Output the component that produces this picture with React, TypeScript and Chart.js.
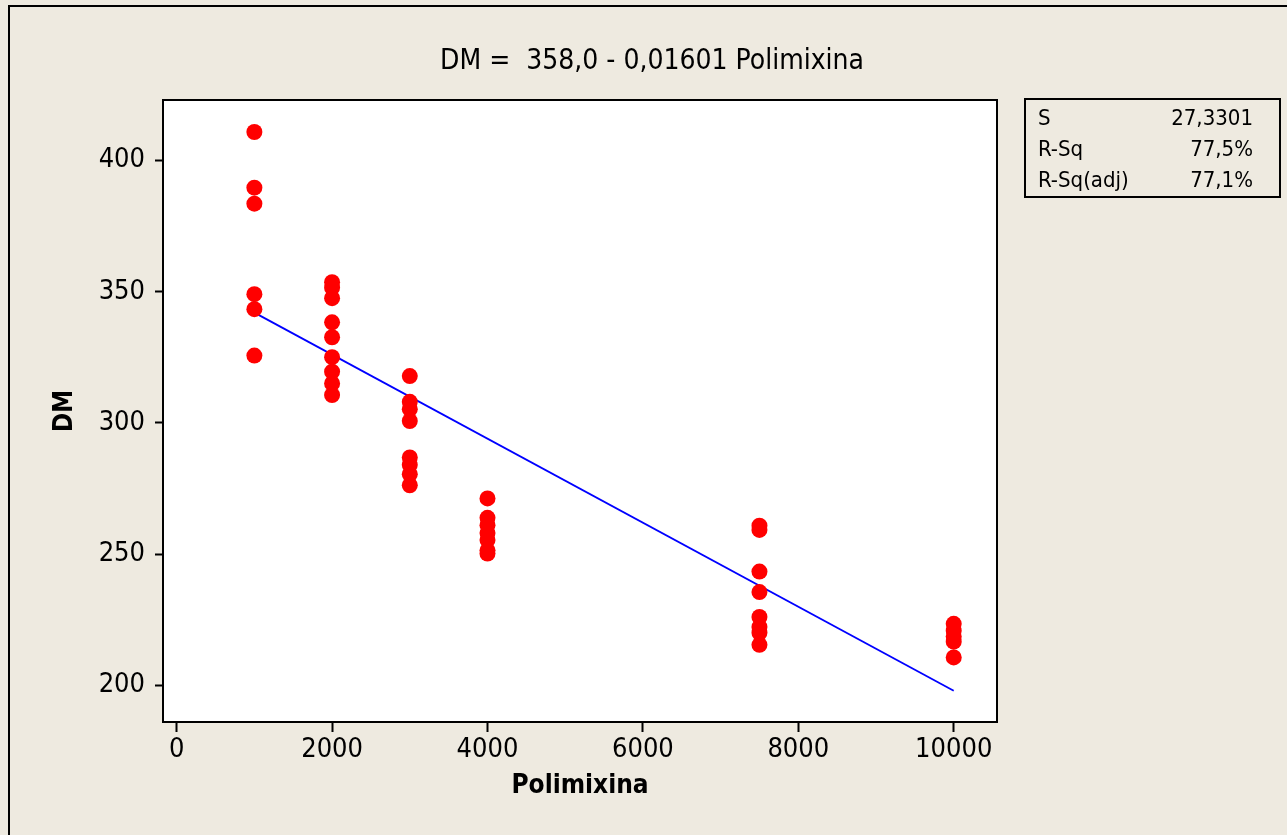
import React, { useEffect, useRef } from "react";
import { Chart, registerables } from "chart.js";

Chart.register(...registerables);

// Observed data (Polimixina, DM)
const polimixina: number[] = [
  1000, 1000, 1000, 1000, 1000, 1000,
  2000, 2000, 2000, 2000, 2000, 2000, 2000, 2000, 2000,
  3000, 3000, 3000, 3000, 3000, 3000, 3000, 3000,
  4000, 4000, 4000, 4000, 4000, 4000, 4000,
  7500, 7500, 7500, 7500, 7500, 7500, 7500, 7500,
  10000, 10000, 10000, 10000, 10000,
];
const dm: number[] = [
  410.8, 389.6, 383.5, 349.0, 343.3, 325.6,
  353.6, 351.5, 347.5, 338.3, 332.6, 325.0, 319.5, 315.0, 310.6,
  317.8, 308.0, 305.2, 300.7, 286.8, 284.0, 280.4, 276.2,
  271.2, 263.8, 261.0, 258.0, 255.3, 251.4, 250.2,
  260.8, 259.2, 243.3, 235.5, 226.0, 222.2, 220.0, 215.4,
  223.4, 220.8, 218.6, 216.6, 210.6,
];

// Fitted regression line end points: DM = 358,0 - 0,01601 Polimixina
const fitX: number[] = [1000, 10000];
const fitY: number[] = [341.99, 197.9];

const xTicks: number[] = [0, 2000, 4000, 6000, 8000, 10000];
const yTicks: number[] = [200, 250, 300, 350, 400];

const titleText = "DM =  358,0 - 0,01601 Polimixina";
const statLabels: string[] = ["S", "R-Sq", "R-Sq(adj)"];
const statValues: string[] = ["27,3301", "77,5%", "77,1%"];

const FONT = "'DejaVu Sans Condensed', 'DejaVu Sans', sans-serif";
const BG = "#EEEAE0";

export default function App() {
  const ref = useRef<HTMLCanvasElement | null>(null);

  useEffect(() => {
    if (!ref.current) return;

    const decor = {
      id: "decor",
      beforeDraw(chart: any) {
        const { ctx, chartArea: a } = chart;
        ctx.save();
        ctx.fillStyle = BG;
        ctx.fillRect(0, 0, chart.width, chart.height);
        // outer frame
        ctx.strokeStyle = "#000";
        ctx.lineWidth = 2;
        ctx.strokeRect(9, 6, 1400, 1000);
        // plot area
        ctx.fillStyle = "#FFFFFF";
        ctx.fillRect(a.left, a.top, a.right - a.left, a.bottom - a.top);
        ctx.restore();
      },
      afterDraw(chart: any) {
        const { ctx, chartArea: a } = chart;
        ctx.save();
        ctx.strokeStyle = "#000";
        ctx.lineWidth = 2;
        ctx.strokeRect(a.left, a.top, a.right - a.left, a.bottom - a.top);

        // title
        ctx.fillStyle = "#000";
        ctx.font = `28px ${FONT}`;
        ctx.textAlign = "center";
        ctx.textBaseline = "middle";
        ctx.fillText(titleText, 652, 62);

        // stats box
        ctx.lineWidth = 2;
        ctx.strokeRect(1025, 99, 255, 98);
        ctx.font = `22px ${FONT}`;
        const rows = [119, 150, 181];
        statLabels.forEach((s, i) => {
          ctx.textAlign = "left";
          ctx.fillText(s, 1038, rows[i]);
          ctx.textAlign = "right";
          ctx.fillText(statValues[i], 1253, rows[i]);
        });
        ctx.restore();
      },
    };

    const scatterPts = polimixina.map((x, i) => ({ x, y: dm[i] }));
    const linePts = fitX.map((x, i) => ({ x, y: fitY[i] }));

    const chart = new Chart(ref.current, {
      type: "scatter",
      data: {
        datasets: [
          {
            label: "DM",
            data: scatterPts,
            backgroundColor: "#FF0000",
            borderWidth: 0,
            pointRadius: 8,
            order: 0,
          },
          {
            type: "line",
            label: "Fit",
            data: linePts,
            borderColor: "#0000FF",
            borderWidth: 1.8,
            pointRadius: 0,
            fill: false,
            order: 1,
          } as any,
        ],
      },
      options: {
        animation: false,
        responsive: false,
        events: [],
        layout: { padding: { top: 100, right: 290, left: 0, bottom: 0 } },
        plugins: {
          legend: { display: false },
          title: { display: false },
          tooltip: { enabled: false },
        },
        scales: {
          x: {
            type: "linear",
            min: -176,
            max: 10557,
            afterFit(scale: any) {
              scale.height = 113;
            },
            afterBuildTicks(scale: any) {
              scale.ticks = xTicks.map((v) => ({ value: v }));
            },
            grid: {
              drawOnChartArea: false,
              drawTicks: true,
              tickLength: 10,
              tickColor: "#000",
              tickWidth: 2,
            },
            border: { display: false },
            ticks: {
              color: "#000",
              font: { family: FONT, size: 27 },
              padding: 2,
              maxRotation: 0,
              autoSkip: false,
              callback: (v: any) => String(v),
            },
            title: {
              display: true,
              text: "Polimixina",
              color: "#000",
              font: { family: FONT, size: 26, weight: "bold" },
              padding: { top: 0, bottom: 33 },
            },
          },
          y: {
            type: "linear",
            min: 186,
            max: 423,
            afterFit(scale: any) {
              scale.width = 163;
            },
            afterBuildTicks(scale: any) {
              scale.ticks = yTicks.map((v) => ({ value: v }));
            },
            grid: {
              drawOnChartArea: false,
              drawTicks: true,
              tickLength: 8,
              tickColor: "#000",
              tickWidth: 2,
            },
            border: { display: false },
            ticks: {
              color: "#000",
              font: { family: FONT, size: 27 },
              padding: 10,
              autoSkip: false,
              callback: (v: any) => String(v),
            },
            title: {
              display: true,
              text: "DM",
              color: "#000",
              font: { family: FONT, size: 26, weight: "bold" },
              padding: { top: 50, bottom: 0 },
            },
          },
        },
      },
      plugins: [decor],
    });

    return () => chart.destroy();
  }, []);

  return (
    <div
      style={{
        position: "absolute",
        left: 0,
        top: 0,
        width: 1287,
        height: 835,
        background: BG,
      }}
    >
      <canvas ref={ref} width={1287} height={835} style={{ display: "block" }} />
    </div>
  );
}
